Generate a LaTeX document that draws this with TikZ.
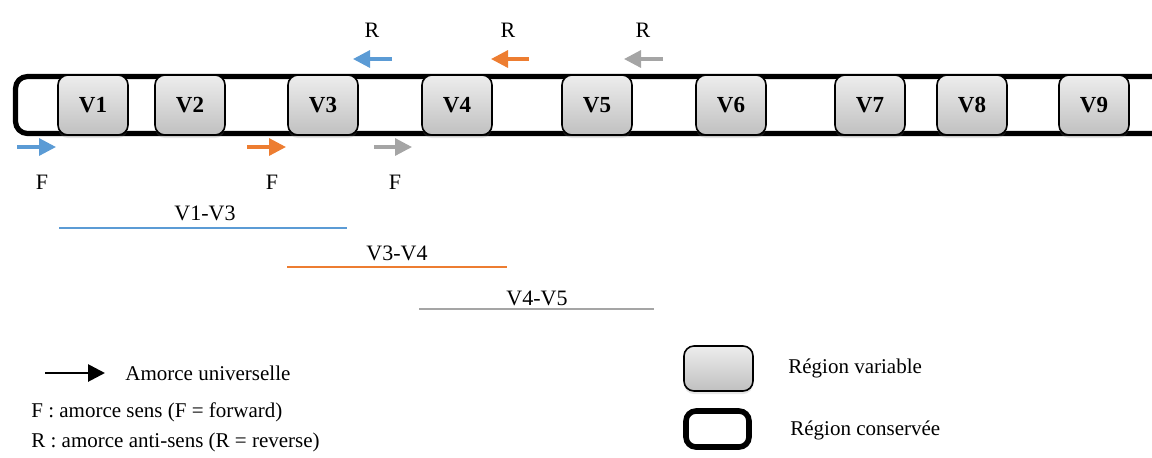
\documentclass[tikz,border=0pt]{standalone}
\usepackage{fontspec}
\setmainfont{Liberation Serif}
\usetikzlibrary{arrows.meta,shadows}
\definecolor{pblue}{HTML}{5B9BD5}
\definecolor{porange}{HTML}{ED7D31}
\definecolor{pgray}{HTML}{A5A5A5}
\definecolor{boxtop}{HTML}{EDEDED}
\definecolor{boxbot}{HTML}{C0C0C0}

\begin{document}
\begin{tikzpicture}[x=0.5pt,y=-0.5pt,
    varbox/.style={draw=black, line width=0.8pt, rounded corners=5pt, top color=boxtop, bottom color=boxbot, minimum width=35pt, minimum height=30pt, font=\fontsize{11.5}{13}\selectfont\bfseries, drop shadow={opacity=0.2, shadow xshift=0pt, shadow yshift=-1.5pt}},
    consbar/.style={line width=2.6pt, rounded corners=6pt},
    primer/.style={-{Triangle[length=8.5pt,width=8.5pt]}, line width=1.6pt},
    amplicon/.style={line width=1pt},
    lbl/.style={font=\fontsize{11}{13}\selectfont},
    leg/.style={font=\fontsize{10.5}{12}\selectfont, anchor=west, inner sep=0pt}
  ]
    \useasboundingbox (0,0) rectangle (1152,457);
    % conserved region
    \draw[consbar] (1175,76.5) -- (15.5,76.5) -- (15.5,133.5) -- (1175,133.5);
    % variable regions
    \foreach \x [count=\i] in {93,190,323,457,597,731,870,972,1094}
      \node[varbox] (v\i) at (\x,105) {V\i};
    % forward primers
    \foreach \s/\e/\c/\t [count=\i] in {17/56/pblue/42, 247/286/porange/272, 374/412/pgray/395} {
      \coordinate (fs\i) at (\s,147);
      \coordinate (fe\i) at (\e,147);
      \draw[primer, \c] (fs\i) -- (fe\i);
      \node[lbl] (f\i) at (\t,182) {F};
    }
    % reverse primers
    \foreach \s/\e/\c/\t [count=\i] in {392/353/pblue/372, 529/491/porange/508, 663/624/pgray/643} {
      \coordinate (rs\i) at (\s,59);
      \coordinate (re\i) at (\e,59);
      \draw[primer, \c] (rs\i) -- (re\i);
      \node[lbl] (r\i) at (\t,30) {R};
    }
    % amplicons
    \node[lbl] (a13) at (205,213) {V1-V3};
    \draw[amplicon, pblue] (59,228) -- (347,228);
    \node[lbl] (a34) at (397,253) {V3-V4};
    \draw[amplicon, porange] (287,267) -- (507,267);
    \node[lbl] (a45) at (537,298) {V4-V5};
    \draw[amplicon, pgray] (419,309) -- (654,309);
    % legend
    \coordinate (us) at (45,373);
    \coordinate (ue) at (105,373);
    \draw[primer, black, line width=1.4pt] (us) -- (ue);
    \node[leg] (univ) at (125,373) {Amorce universelle};
    \node[leg] (fleg) at (31,412) {F : amorce sens (F = forward)};
    \node[leg] (rleg) at (31,442) {R : amorce anti-sens (R = reverse)};
    \node[varbox, minimum width=34.5pt, minimum height=22.5pt] (legvar) at (718.5,368.5) {};
    \node[draw, line width=2.8pt, rounded corners=5pt, minimum width=31.5pt, minimum height=18pt] (legcons) at (717.5,429) {};
    \node[leg] (vartxt) at (788,368) {Région variable};
    \node[leg] (constxt) at (790,430) {Région conservée};
  \end{tikzpicture}
\end{document}
